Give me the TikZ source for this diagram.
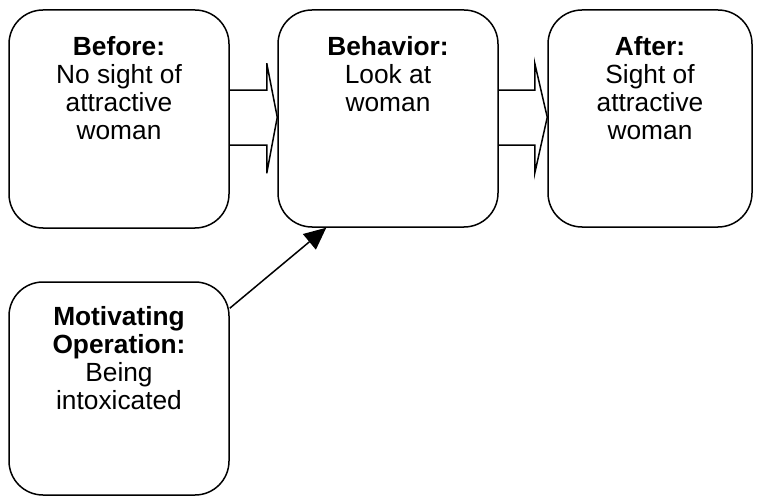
\documentclass[tikz,border=0pt]{standalone}
\usepackage{fontspec}
\setmainfont{Liberation Sans}
\usetikzlibrary{arrows.meta,calc}
\begin{document}
\begin{tikzpicture}[x=1pt,y=-1pt,
  box/.style={draw,line width=1.5pt,rounded corners=34pt,inner sep=0pt},
  lbl/.style={anchor=north,inner sep=0pt,align=center,font=\fontsize{26.3}{28}\selectfont},
  blockarrow/.style={draw,line width=1.5pt,line join=miter},
  conn/.style={draw,line width=1.5pt,-{Triangle[length=22pt,width=20pt]}}]
\useasboundingbox (0,0) rectangle (760,497);
\node[box,minimum width=220pt,minimum height=218pt] (before) at (119,119) {};
\node[box,minimum width=220pt,minimum height=217pt] (behav) at (388,118.5) {};
\node[box,minimum width=204pt,minimum height=217pt] (after) at (650,118.5) {};
\node[box,minimum width=220pt,minimum height=213pt] (mo) at (119,388.5) {};
\node[lbl] (tbefore) at (119,35.6) {\strut\textbf{Before:}\\No sight of\\attractive\\woman};
\node[lbl] (tbehav) at (388,35.6) {\strut\textbf{Behavior:}\\Look at\\woman};
\node[lbl] (tafter) at (650,35.6) {\strut\textbf{After:}\\Sight of\\attractive\\woman};
\node[lbl] (tmo) at (119,305.6) {\strut\textbf{Motivating}\\\textbf{Operation:}\\Being\\intoxicated};
\draw[blockarrow] ($(before.north east)+(0,81)$) -- ++(37,0) -- ++(0,-27) -- ($(behav.north west)+(0,108)$) -- ($(before.north east)+(37,164)$) -- ++(0,-28) -- ++(-37,0);
\draw[blockarrow] ($(behav.north east)+(0,81)$) -- ++(36,0) -- ++(0,-27) -- ($(after.north west)+(0,108)$) -- ($(behav.north east)+(36,164)$) -- ++(0,-28) -- ++(-36,0);
\coordinate (moout) at ($(mo.north east)+(0,27)$);
\coordinate (behin) at ($(behav.south west)+(49,0)$);
\draw[conn] (moout) -- (behin);
\end{tikzpicture}
\end{document}
